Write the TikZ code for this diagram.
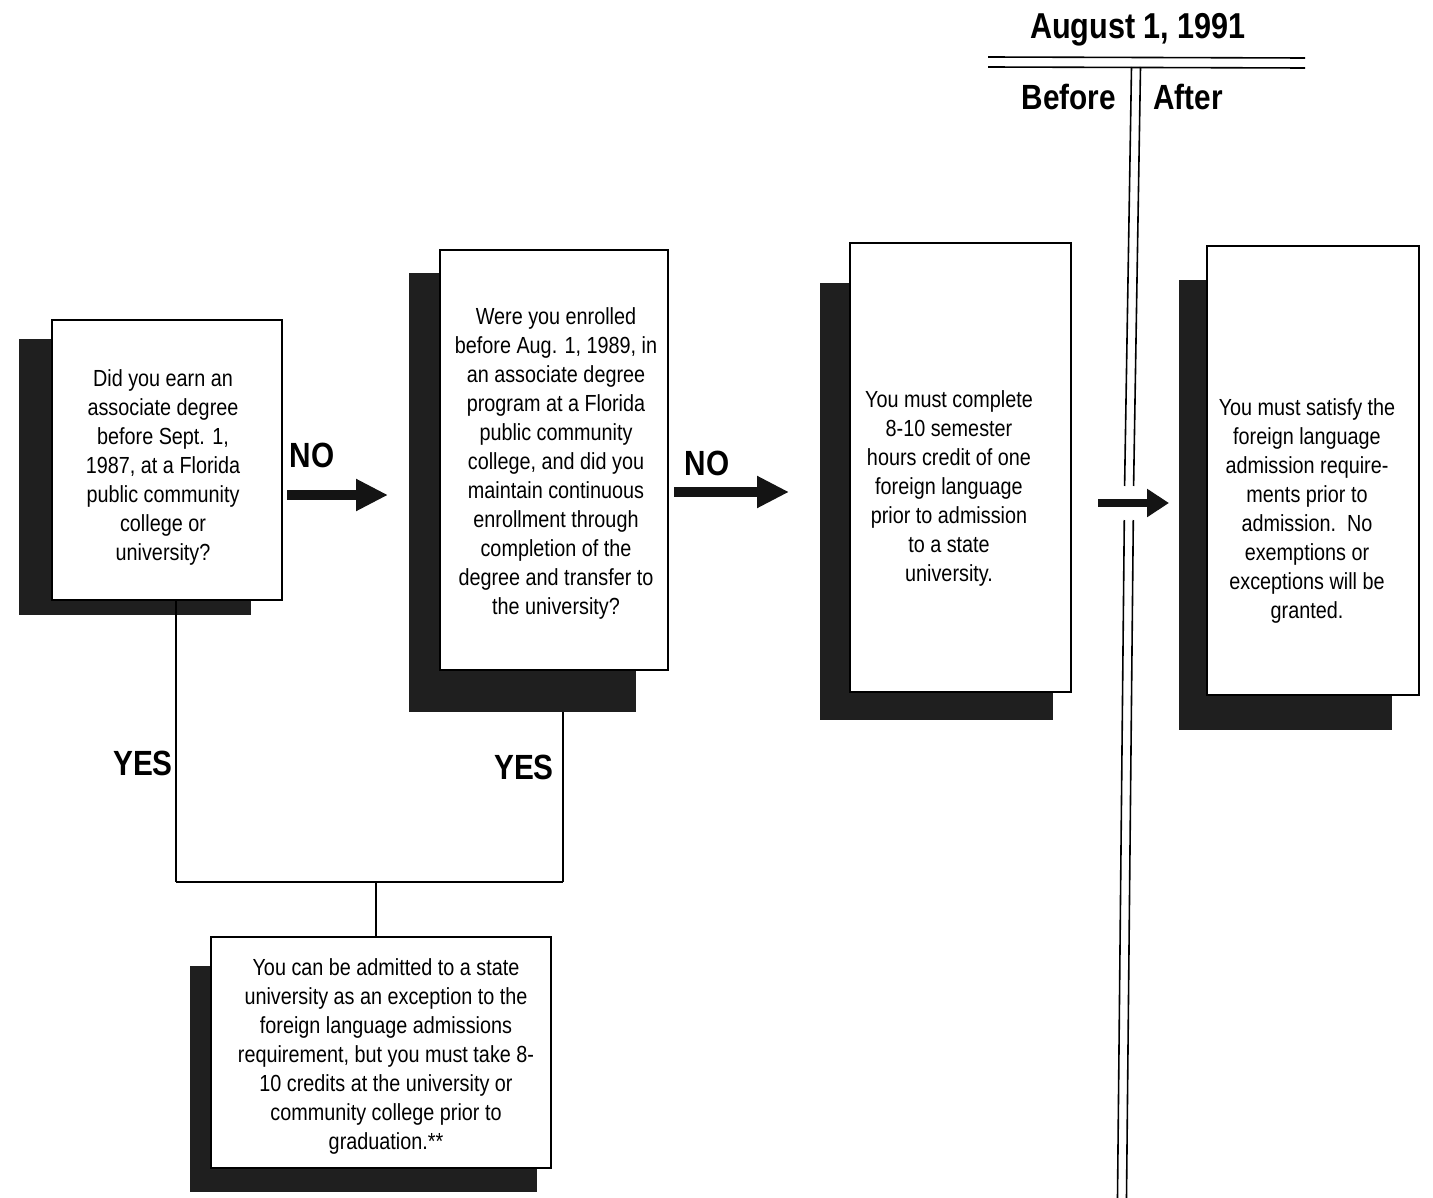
\documentclass[tikz,border=0pt]{standalone}
\usepackage{fontspec}
\setmainfont{Liberation Sans}[FakeStretch=0.85]
\usetikzlibrary{arrows.meta}
\begin{document}
\begin{tikzpicture}[x=1pt,y=-1pt,
  box/.style={draw=black,line width=1.9pt,fill=white,inner sep=0pt},
  shade/.style={fill=black!88,draw=none,inner sep=0pt},
  txt/.style={align=center,font=\fontsize{23.3}{29}\selectfont,inner sep=0pt},
  lab/.style={font=\fontsize{35}{38}\selectfont\bfseries,inner sep=0pt},
  conn/.style={line width=1.9pt},
  bigarrow/.style={line width=10pt,black!92,-{Triangle[length=32pt,width=30pt]}},
  smallarrow/.style={line width=8pt,black!92,-{Triangle[length=22pt,width=27pt]}},
  tl/.style={line width=1.6pt}]
\useasboundingbox (0,0) rectangle (1433,1198);
\fill[white] (0,0) rectangle (1433,1198);

% timeline
\node[lab,font=\fontsize{36}{40}\selectfont\bfseries] (date) at (1138,30) {August 1, 1991};
\coordinate (hl1) at (988,57); \coordinate (hr1) at (1305,58);
\coordinate (hl2) at (988,67); \coordinate (hr2) at (1305,68);
\draw[tl] (hl1) -- (hr1);
\draw[tl] (hl2) -- (hr2);
\node[lab] (before) at (1069,97) {Before};
\node[lab] (after) at (1188,97) {After};
\coordinate (va1) at (1131.5,67); \coordinate (vb1) at (1140.5,67);
\coordinate (va2) at (1124.6,486); \coordinate (vb2) at (1133.6,486);
\coordinate (va3) at (1124.3,520); \coordinate (vb3) at (1133.3,520);
\coordinate (va4) at (1117.5,1198); \coordinate (vb4) at (1126.5,1198);
\draw[tl] (va1) -- (va2); \draw[tl] (vb1) -- (vb2);
\draw[tl] (va3) -- (va4); \draw[tl] (vb3) -- (vb4);

% junction coordinates
\coordinate (j1) at (176,882);
\coordinate (j2) at (563,882);
\coordinate (j3) at (376,882);

% shadows
\node[shade,minimum width=232pt,minimum height=276pt] (s1) at (135,477) {};
\node[shade,minimum width=227pt,minimum height=439pt] (s2) at (522.5,492.5) {};
\node[shade,minimum width=233pt,minimum height=437pt] (s3) at (936.5,501.5) {};
\node[shade,minimum width=213pt,minimum height=450pt] (s4) at (1285.5,505) {};
\node[shade,minimum width=347pt,minimum height=226pt] (s5) at (363.5,1079) {};

% connectors (behind boxes)
\draw[conn] (j1) -- (j2);
\draw[conn] (j3) -- (376,937);

% boxes
\node[box,minimum width=230pt,minimum height=280pt] (b1) at (167,460) {};
\node[box,minimum width=228pt,minimum height=420pt] (b2) at (554,460) {};
\node[box,minimum width=221pt,minimum height=449pt] (b3) at (960.5,467.5) {};
\node[box,minimum width=212pt,minimum height=449pt] (b4) at (1313,470.5) {};
\node[box,minimum width=340pt,minimum height=231pt] (b5) at (381,1052.5) {};

\draw[conn] (b1.south -| j1) -- (j1);
\draw[conn] (s2.south -| j2) -- (j2);

% texts
\node[txt] (t1) at (163,467) {Did you earn an\\associate degree\\before Sept. 1,\\1987, at a Florida\\public community\\college or\\university?};
\node[txt] (t2) at (556,463) {Were you enrolled\\before Aug. 1, 1989, in\\an associate degree\\program at a Florida\\public community\\college, and did you\\maintain continuous\\enrollment through\\completion of the\\degree and transfer to\\the university?};
\node[txt] (t3) at (949,488) {You must complete\\8-10 semester\\hours credit of one\\foreign language\\prior to admission\\to a state\\university.};
\node[txt] (t4) at (1307,511) {You must satisfy the\\foreign language\\admission require-\\ments prior to\\admission.\ \ No\\exemptions or\\exceptions will be\\granted.};
\node[txt] (t5) at (386,1056) {You can be admitted to a state\\university as an exception to the\\foreign language admissions\\requirement, but you must take 8-\\10 credits at the university or\\community college prior to\\graduation.**};

% labels
\node[lab] (no1) at (312,455) {NO};
\node[lab] (no2) at (707,463) {NO};
\node[lab] (yes1) at (143,763) {YES};
\node[lab] (yes2) at (524,767) {YES};

% arrows
\coordinate (a1s) at (287,495); \coordinate (a1e) at (388,495);
\coordinate (a2s) at (674,492); \coordinate (a2e) at (789,492);
\coordinate (a3s) at (1098,503); \coordinate (a3e) at (1169,503);
\draw[bigarrow] (a1s) -- (a1e);
\draw[bigarrow] (a2s) -- (a2e);
\draw[smallarrow] (a3s) -- (a3e);
\end{tikzpicture}
\end{document}
